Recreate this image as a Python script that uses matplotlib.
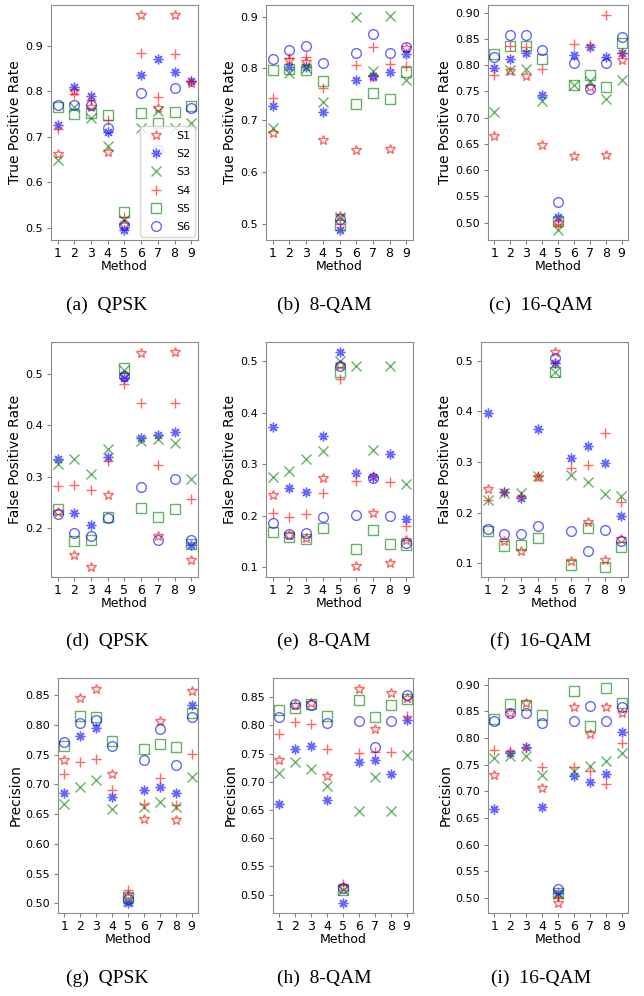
import numpy as np
import matplotlib.pyplot as plt
from matplotlib.ticker import MultipleLocator

methods = [1, 2, 3, 4, 5, 6, 7, 8, 9]
series = ['S1', 'S2', 'S3', 'S4', 'S5', 'S6']

# rows: S1..S6, columns: method 1..9
tpr_qpsk = [
    [0.662, 0.800, 0.766, 0.667, 0.507, 0.968, 0.763, 0.968, 0.819],
    [0.726, 0.810, 0.790, 0.711, 0.495, 0.835, 0.871, 0.843, 0.823],
    [0.649, 0.765, 0.741, 0.680, 0.517, 0.720, 0.757, 0.719, 0.731],
    [0.717, 0.795, 0.781, 0.737, 0.523, 0.884, 0.788, 0.882, 0.823],
    [0.766, 0.750, 0.753, 0.748, 0.534, 0.753, 0.731, 0.754, 0.768],
    [0.769, 0.771, 0.769, 0.719, 0.507, 0.797, 0.671, 0.808, 0.763],
]
tpr_8qam = [
    [0.676, 0.817, 0.812, 0.661, 0.515, 0.643, 0.783, 0.644, 0.840],
    [0.728, 0.802, 0.802, 0.716, 0.488, 0.777, 0.786, 0.793, 0.828],
    [0.685, 0.791, 0.800, 0.735, 0.513, 0.900, 0.795, 0.902, 0.777],
    [0.743, 0.820, 0.823, 0.763, 0.499, 0.807, 0.841, 0.809, 0.805],
    [0.797, 0.798, 0.797, 0.775, 0.497, 0.732, 0.753, 0.740, 0.793],
    [0.818, 0.836, 0.844, 0.810, 0.510, 0.829, 0.867, 0.829, 0.841],
]
tpr_16qam = [
    [0.665, 0.788, 0.779, 0.647, 0.499, 0.627, 0.758, 0.628, 0.810],
    [0.795, 0.811, 0.824, 0.744, 0.511, 0.819, 0.835, 0.816, 0.824],
    [0.711, 0.791, 0.792, 0.732, 0.486, 0.763, 0.769, 0.735, 0.772],
    [0.781, 0.836, 0.835, 0.792, 0.497, 0.840, 0.838, 0.895, 0.824],
    [0.822, 0.836, 0.837, 0.811, 0.503, 0.763, 0.781, 0.759, 0.842],
    [0.815, 0.858, 0.858, 0.828, 0.539, 0.805, 0.755, 0.805, 0.853],
]
fpr_qpsk = [
    [0.232, 0.149, 0.125, 0.265, 0.498, 0.539, 0.186, 0.541, 0.139],
    [0.334, 0.230, 0.207, 0.338, 0.492, 0.376, 0.381, 0.386, 0.167],
    [0.325, 0.334, 0.306, 0.353, 0.507, 0.370, 0.373, 0.365, 0.295],
    [0.283, 0.284, 0.275, 0.331, 0.479, 0.443, 0.323, 0.443, 0.257],
    [0.238, 0.176, 0.178, 0.222, 0.511, 0.239, 0.223, 0.237, 0.170],
    [0.228, 0.191, 0.186, 0.220, 0.495, 0.281, 0.177, 0.295, 0.177],
]
fpr_8qam = [
    [0.239, 0.163, 0.156, 0.272, 0.492, 0.101, 0.205, 0.108, 0.152],
    [0.371, 0.253, 0.246, 0.355, 0.517, 0.283, 0.275, 0.319, 0.194],
    [0.274, 0.287, 0.309, 0.325, 0.501, 0.490, 0.327, 0.490, 0.261],
    [0.205, 0.197, 0.203, 0.243, 0.466, 0.268, 0.277, 0.266, 0.180],
    [0.168, 0.159, 0.154, 0.175, 0.479, 0.135, 0.171, 0.145, 0.143],
    [0.186, 0.165, 0.167, 0.197, 0.490, 0.201, 0.273, 0.199, 0.146],
]
fpr_16qam = [
    [0.247, 0.143, 0.123, 0.271, 0.518, 0.105, 0.182, 0.107, 0.147],
    [0.397, 0.241, 0.228, 0.366, 0.495, 0.307, 0.332, 0.299, 0.193],
    [0.224, 0.238, 0.239, 0.272, 0.479, 0.274, 0.261, 0.237, 0.232],
    [0.224, 0.241, 0.232, 0.272, 0.495, 0.288, 0.295, 0.357, 0.220],
    [0.163, 0.133, 0.136, 0.150, 0.479, 0.097, 0.169, 0.093, 0.132],
    [0.168, 0.158, 0.158, 0.174, 0.506, 0.164, 0.124, 0.166, 0.143],
]
prec_qpsk = [
    [0.742, 0.845, 0.861, 0.717, 0.515, 0.642, 0.806, 0.641, 0.857],
    [0.686, 0.781, 0.795, 0.679, 0.501, 0.690, 0.696, 0.686, 0.833],
    [0.668, 0.696, 0.707, 0.658, 0.504, 0.662, 0.670, 0.662, 0.713],
    [0.718, 0.737, 0.743, 0.690, 0.522, 0.667, 0.711, 0.666, 0.751],
    [0.764, 0.815, 0.813, 0.773, 0.511, 0.760, 0.768, 0.763, 0.820],
    [0.771, 0.803, 0.808, 0.765, 0.507, 0.741, 0.793, 0.732, 0.814],
]
prec_8qam = [
    [0.739, 0.836, 0.840, 0.710, 0.514, 0.865, 0.794, 0.858, 0.849],
    [0.661, 0.759, 0.764, 0.668, 0.485, 0.735, 0.739, 0.713, 0.810],
    [0.716, 0.735, 0.722, 0.693, 0.509, 0.648, 0.708, 0.648, 0.748],
    [0.784, 0.806, 0.803, 0.759, 0.519, 0.751, 0.753, 0.752, 0.816],
    [0.827, 0.831, 0.838, 0.817, 0.508, 0.845, 0.815, 0.836, 0.846],
    [0.815, 0.838, 0.837, 0.804, 0.512, 0.807, 0.761, 0.807, 0.853],
]
prec_16qam = [
    [0.731, 0.847, 0.866, 0.706, 0.491, 0.859, 0.808, 0.858, 0.846],
    [0.667, 0.771, 0.783, 0.671, 0.509, 0.729, 0.717, 0.732, 0.811],
    [0.762, 0.766, 0.767, 0.731, 0.508, 0.739, 0.747, 0.756, 0.771],
    [0.777, 0.776, 0.781, 0.745, 0.502, 0.745, 0.739, 0.714, 0.791],
    [0.836, 0.864, 0.861, 0.844, 0.509, 0.889, 0.823, 0.893, 0.866],
    [0.831, 0.847, 0.846, 0.828, 0.517, 0.831, 0.860, 0.831, 0.858],
]

markers = ['*', (8, 2, 0), 'x', '+', 's', 'o']
colors = ['red', 'blue', 'green', 'red', 'green', 'blue']
hollow = [True, False, False, False, True, True]

W, H = 644, 996
fig = plt.figure(figsize=(W / 100, H / 100), dpi=100)

# pixel boxes (x0, y0, x1, y1) of each panel
panels = [
    (tpr_qpsk, 'True Positive Rate', (0.473, 0.990), 0.1, (51, 5, 198, 240), '(a)  QPSK'),
    (tpr_8qam, 'True Positive Rate', (0.4685, 0.9225), 0.1, (266, 5, 413, 240), '(b)  8-QAM'),
    (tpr_16qam, 'True Positive Rate', (0.467, 0.9146), 0.05, (488, 5, 628, 240), '(c)  16-QAM'),
    (fpr_qpsk, 'False Positive Rate', (0.106, 0.561), 0.1, (51, 342, 198, 577), '(d)  QPSK'),
    (fpr_8qam, 'False Positive Rate', (0.0806, 0.537), 0.1, (266, 342, 413, 577), '(e)  8-QAM'),
    (fpr_16qam, 'False Positive Rate', (0.0724, 0.5375), 0.1, (481, 342, 628, 577), '(f)  16-QAM'),
    (prec_qpsk, 'Precision', (0.484, 0.879), 0.05, (58, 678, 198, 913), '(g)  QPSK'),
    (prec_8qam, 'Precision', (0.4675, 0.884), 0.05, (273, 678, 413, 913), '(h)  8-QAM'),
    (prec_16qam, 'Precision', (0.472, 0.9125), 0.05, (488, 678, 628, 913), '(i)  16-QAM'),
]
cap_x = [107, 324, 541]
cap_y = [305, 641, 978]

for i, (data, ylab, ylim, step, box, cap) in enumerate(panels):
    x0, y0, x1, y1 = box
    ax = fig.add_axes([x0 / W, 1 - y1 / H, (x1 - x0) / W, (y1 - y0) / H])
    for k in range(6):
        c = colors[k]
        ax.plot(methods, data[k], linestyle='none', marker=markers[k],
                color=c, mec=c, mfc='none' if hollow[k] else c,
                ms=7, mew=1.0, alpha=0.6, label=series[k])
    ax.set_xlim(0.6, 9.4)
    ax.set_ylim(*ylim)
    ax.set_xticks(methods)
    ax.yaxis.set_major_locator(MultipleLocator(step))
    ax.tick_params(axis='x', labelsize=9, length=3, pad=2, color='0.5')
    ax.tick_params(axis='y', labelsize=8, length=3, pad=3, color='0.5')
    ax.set_xlabel('Method', fontsize=9, labelpad=0)
    ax.set_ylabel(ylab, fontsize=10, labelpad=2)
    for s in ax.spines.values():
        s.set_color('0.55')
    if i == 0:
        ax.legend(loc='lower right', fontsize=8, handletextpad=0.8,
                  borderaxespad=0.3, labelspacing=0.75)
    fig.text(cap_x[i % 3] / W, 1 - cap_y[i // 3] / H, cap, ha='center', va='center',
             fontsize=14, family='Liberation Serif')

fig.savefig('out.png', dpi=100)
